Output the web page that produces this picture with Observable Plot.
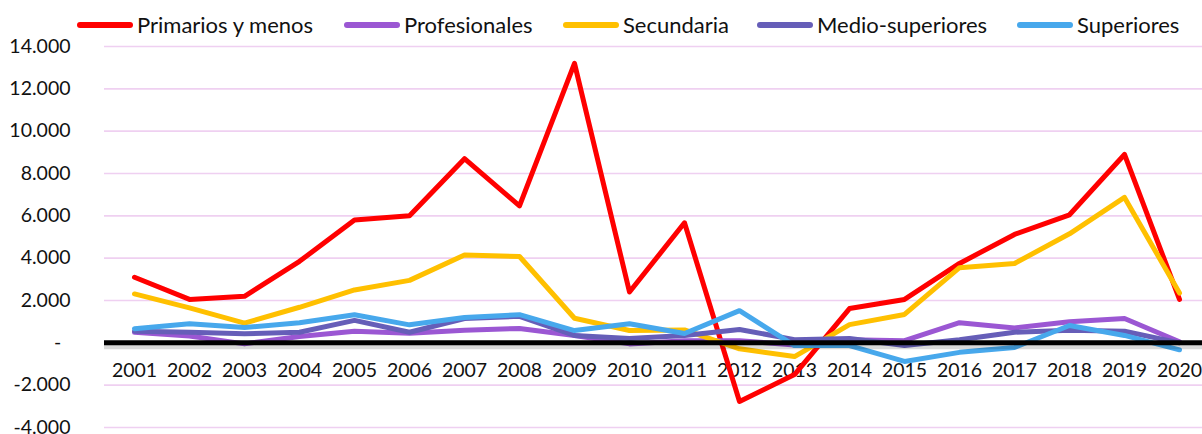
<!DOCTYPE html>
<html>
<head>
<meta charset="utf-8">
<script src="https://cdn.jsdelivr.net/npm/d3@7"></script>
<script src="https://cdn.jsdelivr.net/npm/@observablehq/plot@0.6"></script>
<style>
  html, body { margin: 0; padding: 0; background: #fff; }
  #wrap { position: relative; width: 1202px; height: 434px; overflow: hidden; font-family: Lato, "Open Sans", sans-serif; }
  #legend { position: absolute; left: 0; top: 0; width: 1202px; height: 50px; }
  .item { position: absolute; top: 11px; display: flex; align-items: center; font-size: 22px; color: #111; white-space: nowrap; }
  .sw { width: 56px; height: 6px; border-radius: 3px; margin-right: 4px; }
</style>
</head>
<body>
<div id="wrap"><div id="chart"></div><div id="legend"></div></div>
<script>
const years = ["2001","2002","2003","2004","2005","2006","2007","2008","2009","2010","2011","2012","2013","2014","2015","2016","2017","2018","2019","2020"];
const seriesNames = ["Primarios y menos", "Profesionales", "Secundaria", "Medio-superiores", "Superiores"];
const seriesColors = ["#FF0000", "#9B57D3", "#FFC000", "#665EB8", "#47A8EC"];
const legendX = [77, 344, 563, 757, 1017];
const primarios = [3100, 2050, 2200, 3850, 5800, 6000, 8700, 6470, 13200, 2400, 5670, -2770, -1500, 1620, 2050, 3750, 5120, 6050, 8900, 2050];
const profesionales = [500, 320, -50, 300, 550, 450, 600, 680, 350, -50, 100, 100, -100, 150, 100, 950, 700, 1000, 1150, 50];
const secundaria = [2310, 1650, 930, 1680, 2500, 2950, 4150, 4080, 1160, 580, 610, -280, -650, 860, 1340, 3550, 3750, 5150, 6870, 2350];
const medioSup = [550, 500, 430, 500, 1060, 500, 1150, 1250, 350, 200, 350, 630, 150, 200, -130, 150, 500, 600, 550, 0];
const superiores = [670, 900, 720, 950, 1330, 850, 1200, 1330, 580, 900, 440, 1520, -130, -130, -880, -450, -220, 820, 350, -330];
const yTicks = [-4000, -2000, 0, 2000, 4000, 6000, 8000, 10000, 12000, 14000];

const allSeries = [primarios, profesionales, secundaria, medioSup, superiores];
const tidy = allSeries.map((vals, i) => years.map((yr, j) => ({year: yr, value: vals[j], series: seriesNames[i]})));
const fmt = d => d === 0 ? "-" : (d < 0 ? "-" : "") + d3.format(",")(Math.abs(d)).replace(/,/g, ".");

const chart = Plot.plot({
  width: 1202,
  height: 434,
  marginTop: 46,
  marginBottom: 7,
  marginLeft: 104,
  marginRight: 0,
  style: {fontFamily: "Lato, 'Open Sans', sans-serif", fontSize: "19.5px", color: "#111", background: "#fff"},
  x: {type: "point", domain: years, range: [131, 1181], padding: 0, axis: null},
  y: {domain: [-4000, 14000], axis: null},
  marks: [
    Plot.ruleY(yTicks, {stroke: "#EFD0F1", strokeWidth: 1.6}),
    Plot.text(yTicks.filter(d => d !== 0), {y: d => d, text: fmt, frameAnchor: "left", textAnchor: "end", dx: -34, fill: "#111"}),
    Plot.text([0], {y: d => d, text: fmt, frameAnchor: "left", textAnchor: "middle", dx: -47, fill: "#111"}),
    Plot.text(years, {x: d => d, y: 0, text: d => d, dy: 28, fill: "#111"}),
    ...tidy.map((data, i) => Plot.line(data, {x: "year", y: "value", stroke: seriesColors[i], strokeWidth: 5, strokeLinejoin: "round", strokeLinecap: "round"})),
    Plot.ruleY([0], {stroke: "#000", strokeOpacity: 0.15, strokeWidth: 5, dy: 4}),
    Plot.ruleY([0], {stroke: "#000", strokeWidth: 5})
  ]
});
document.getElementById("chart").appendChild(chart);

const legend = document.getElementById("legend");
seriesNames.forEach((name, i) => {
  const it = document.createElement("div");
  it.className = "item";
  it.style.left = legendX[i] + "px";
  const sw = document.createElement("div");
  sw.className = "sw";
  sw.style.background = seriesColors[i];
  const t = document.createElement("span");
  t.textContent = name;
  it.appendChild(sw);
  it.appendChild(t);
  legend.appendChild(it);
});
</script>
</body>
</html>
